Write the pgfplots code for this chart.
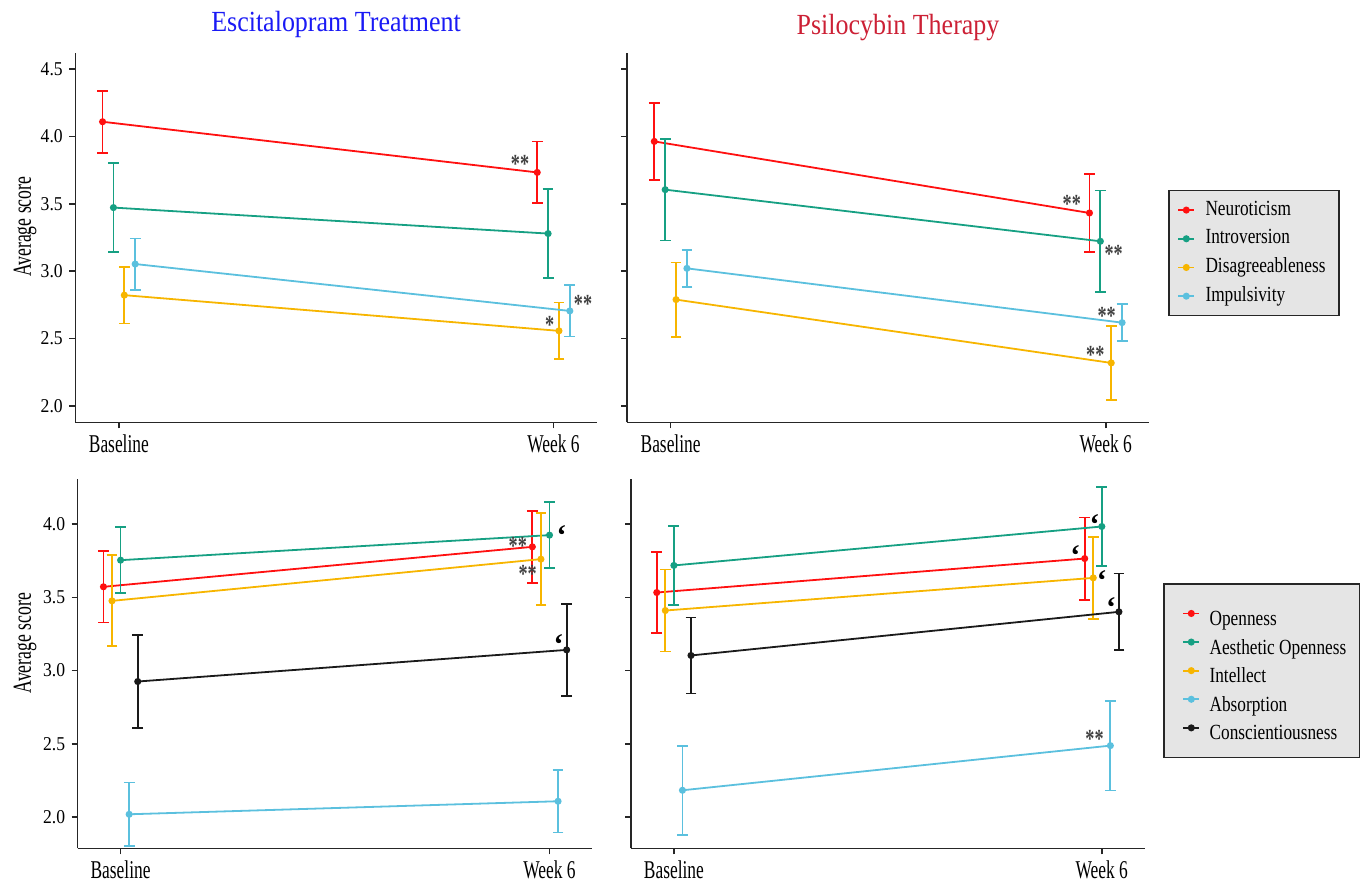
\documentclass[border=0pt]{standalone}
\usepackage{pgfplots}
\pgfplotsset{compat=1.18}
\usepackage{fontspec}
\setmainfont{Liberation Serif}
\newfontfamily\fxt{Liberation Serif}[FakeStretch=0.68]
\newfontfamily\fyt{Liberation Serif}[FakeStretch=0.9]
\newfontfamily\fyl{Liberation Serif}[FakeStretch=0.68]
\newfontfamily\ftt{Liberation Serif}[FakeStretch=0.89]
\newfontfamily\flg{Liberation Serif}[FakeStretch=0.8]
\newfontfamily\fst{Liberation Serif}[FakeStretch=0.7]

\definecolor{cR}{HTML}{FF1010}
\definecolor{cG}{HTML}{16A083}
\definecolor{cO}{HTML}{F7B500}
\definecolor{cB}{HTML}{5BC0DE}
\definecolor{cK}{HTML}{1A1A1A}
\definecolor{tBlue}{HTML}{1A1AF5}
\definecolor{tRed}{HTML}{CC2035}

\tikzset{
  ann/.style={anchor=center, inner sep=0pt, yshift=-2.1pt, text=black!75, font=\fst\bfseries\fontsize{13}{13}\selectfont},
  qt/.style={anchor=center, inner sep=0pt, yshift=-2.5pt, text=black, font=\bfseries\fontsize{15}{15}\selectfont},
}

\pgfplotsset{
  panel/.style={
    scale only axis, anchor=south west, clip=false,
    axis x line*=bottom, axis y line*=left,
    xtick pos=bottom, ytick pos=left,
    tick align=outside,
    xmin=0.9, xmax=2.1,
    xtick={1,2}, xticklabels={Baseline,Week 6},
    axis line style={draw=black!85, line width=0.8pt},
    major tick style={draw=black!85, line width=0.8pt},
    major tick length=3pt,
    x tick label style={font=\fxt\fontsize{12.8}{13}\selectfont, inner sep=0pt, yshift=-2.75pt},
    y tick label style={font=\fyt\fontsize{9.8}{11}\selectfont, inner sep=0pt, xshift=-3.1pt,
      /pgf/number format/assume math mode=true, /pgf/number format/fixed,
      /pgf/number format/fixed zerofill, /pgf/number format/precision=1},
    legend image code/.code={\draw[mark repeat=2,mark phase=2,#1] plot coordinates {(0pt,0pt) (4pt,0pt) (8pt,0pt)};},
    legend cell align=left,
  },
  ylab/.style={ylabel={Average score}, ylabel style={at={(axis description cs:#1)}, anchor=north, inner sep=0pt, font=\fyl\fontsize{13}{14}\selectfont}},
  ser/.style={color=#1, line width=0.9pt, mark=*, mark size=1.3pt, mark options={solid, fill=#1},
    error bars/y dir=both, error bars/y explicit,
    error bars/error bar style={line width=0.9pt, color=#1},
    error bars/error mark options={rotate=90, mark size=2.7pt, line width=0.9pt, color=#1}},
}

\begin{document}
\begin{tikzpicture}
\useasboundingbox (0,0) rectangle (681pt,440.5pt);

% ---------------- Top left: Escitalopram ----------------
\begin{axis}[panel, ylab={-0.119,0.53},
  at={(37.7pt,229.25pt)}, width=260.8pt, height=184.65pt,
  ymin=1.877, ymax=4.618, ytick={2,2.5,3,3.5,4,4.5}]
\addplot[ser=cR] coordinates {(0.9625,4.109) +- (0,0.229) (1.9625,3.733) +- (0,0.229)};
\addplot[ser=cG] coordinates {(0.9875,3.472) +- (0,0.328) (1.9875,3.279) +- (0,0.330)};
\addplot[ser=cO] coordinates {(1.0125,2.822) +- (0,0.211) (2.0125,2.557) +- (0,0.210)};
\addplot[ser=cB] coordinates {(1.0375,3.053) +- (0,0.190) (2.0375,2.705) +- (0,0.190)};
\node[ann] at (axis cs:1.923,3.827) {**};
\node[ann] at (axis cs:1.991,2.631) {*};
\node[ann] at (axis cs:2.068,2.785) {**};
\end{axis}

% ---------------- Top right: Psilocybin ----------------
\begin{axis}[panel,
  at={(313.55pt,229.25pt)}, width=261.1pt, height=184.65pt,
  ymin=1.877, ymax=4.618, ytick={2,2.5,3,3.5,4,4.5}, yticklabels={},
  legend style={at={(1.0364,0.6296)}, anchor=north west, fill=black!10, draw=black!85, line width=0.7pt,
    font=\flg\fontsize{10.8}{12}\selectfont, inner xsep=4.2pt, inner ysep=5.2pt,
    row sep=5.35pt, column sep=5.15pt,
    nodes={inner sep=0pt, text height=7pt, text depth=2pt}}]
\addplot[ser=cR] coordinates {(0.9625,3.963) +- (0,0.288) (1.9625,3.432) +- (0,0.287)};
\addlegendentry{\makebox[62.6pt][l]{Neuroticism}}
\addplot[ser=cG] coordinates {(0.9875,3.605) +- (0,0.377) (1.9875,3.222) +- (0,0.377)};
\addlegendentry{\makebox[62.6pt][l]{Introversion}}
\addplot[ser=cO] coordinates {(1.0125,2.789) +- (0,0.275) (2.0125,2.319) +- (0,0.276)};
\addlegendentry{\makebox[62.6pt][l]{Disagreeableness}}
\addplot[ser=cB] coordinates {(1.0375,3.021) +- (0,0.136) (2.0375,2.618) +- (0,0.137)};
\addlegendentry{\makebox[62.6pt][l]{Impulsivity}}
\node[ann] at (axis cs:1.922,3.531) {**};
\node[ann] at (axis cs:2.018,3.160) {**};
\node[ann] at (axis cs:2.002,2.702) {**};
\node[ann] at (axis cs:1.976,2.410) {**};
\end{axis}

% ---------------- Bottom left ----------------
\begin{axis}[panel, ylab={-0.125,0.555},
  at={(38.85pt,16.3pt)}, width=257.35pt, height=184.8pt,
  ymin=1.785, ymax=4.31, ytick={2,2.5,3,3.5,4}]
\addplot[ser=cR] coordinates {(0.96,3.572) +- (0,0.244) (1.96,3.845) +- (0,0.245)};
\addplot[ser=cG] coordinates {(1.00,3.754) +- (0,0.224) (2.00,3.925) +- (0,0.225)};
\addplot[ser=cO] coordinates {(0.98,3.476) +- (0,0.311) (1.98,3.761) +- (0,0.313)};
\addplot[ser=cB] coordinates {(1.02,2.018) +- (0,0.217) (2.02,2.107) +- (0,0.214)};
\addplot[ser=cK] coordinates {(1.04,2.925) +- (0,0.316) (2.04,3.141) +- (0,0.316)};
\node[ann] at (axis cs:1.926,3.879) {**};
\node[ann] at (axis cs:1.949,3.688) {**};
\node[qt] at (axis cs:2.028,3.954) {‘};
\node[qt] at (axis cs:2.021,3.214) {‘};
\end{axis}

% ---------------- Bottom right ----------------
\begin{axis}[panel,
  at={(315.55pt,16.3pt)}, width=256.75pt, height=184.8pt,
  ymin=1.785, ymax=4.31, ytick={2,2.5,3,3.5,4}, yticklabels={},
  legend style={at={(1.0364,0.7173)}, anchor=north west, fill=black!10, draw=black!85, line width=0.7pt,
    font=\flg\fontsize{10.8}{12}\selectfont, inner xsep=9.2pt, inner ysep=8.5pt,
    row sep=1.8pt, column sep=4.7pt,
    nodes={inner sep=0pt, text height=12.25pt, text depth=0.25pt}}]
\addplot[ser=cR] coordinates {(0.96,3.533) +- (0,0.279) (1.96,3.765) +- (0,0.281)};
\addlegendentry{\makebox[65.8pt][l]{Openness}}
\addplot[ser=cG] coordinates {(1.00,3.718) +- (0,0.268) (2.00,3.984) +- (0,0.269)};
\addlegendentry{\makebox[65.8pt][l]{Aesthetic Openness}}
\addplot[ser=cO] coordinates {(0.98,3.410) +- (0,0.280) (1.98,3.633) +- (0,0.279)};
\addlegendentry{\makebox[65.8pt][l]{Intellect}}
\addplot[ser=cB] coordinates {(1.02,2.182) +- (0,0.304) (2.02,2.487) +- (0,0.307)};
\addlegendentry{\makebox[65.8pt][l]{Absorption}}
\addplot[ser=cK] coordinates {(1.04,3.103) +- (0,0.260) (2.04,3.401) +- (0,0.262)};
\addlegendentry{\makebox[65.8pt][l]{Conscientiousness}}
\node[qt] at (axis cs:1.983,4.034) {‘};
\node[qt] at (axis cs:1.938,3.820) {‘};
\node[qt] at (axis cs:2.000,3.647) {‘};
\node[qt] at (axis cs:2.022,3.465) {‘};
\node[ann] at (axis cs:1.983,2.560) {**};
\end{axis}

% titles
\node[anchor=base, font=\ftt\fontsize{14.6}{16}\selectfont, text=tBlue] at (168pt,424.65pt) {Escitalopram Treatment};
\node[anchor=base, font=\ftt\fontsize{14.6}{16}\selectfont, text=tRed] at (449pt,423.35pt) {Psilocybin Therapy};
\end{tikzpicture}
\end{document}
